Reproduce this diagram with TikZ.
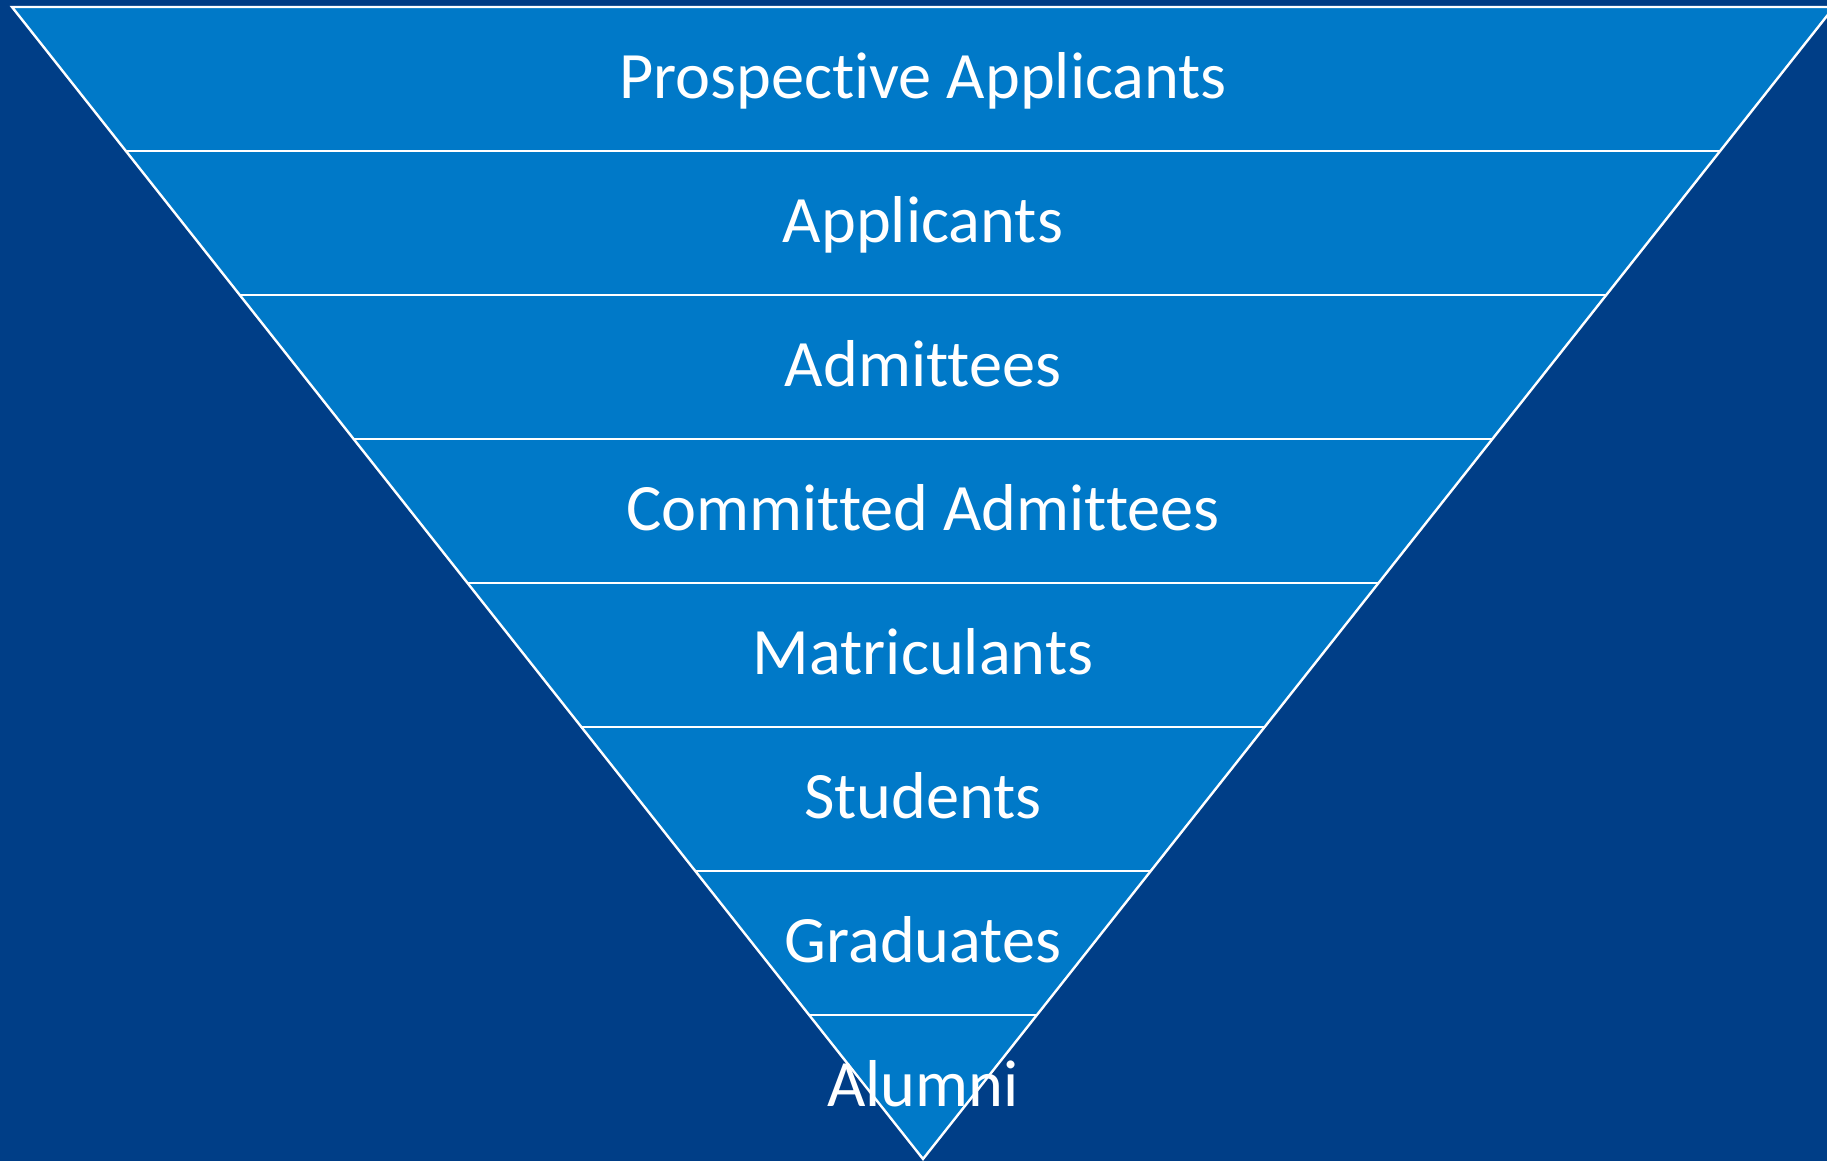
\documentclass[tikz,border=0pt]{standalone}
\usepackage{fontspec}
\setmainfont[Ligatures={NoCommon}]{Carlito}
\definecolor{bg}{RGB}{0,62,135}
\definecolor{band}{RGB}{0,121,200}
\begin{document}
\begin{tikzpicture}[x=1pt,y=-1pt,
  lbl/.style={text=white,font=\fontsize{66.3}{79}\selectfont,anchor=base,inner sep=0pt},
  sep/.style={draw=white,line width=2.4pt}]
\useasboundingbox (0,0) rectangle (1827,1161);
\clip (0,0) rectangle (1827,1161);
\fill[bg] (0,0) rectangle (1827,1161);
\coordinate (tl) at (12,7);
\coordinate (tr) at (1834,7);
\coordinate (apex) at (923,1159);
\fill[band] (tl) -- (tr) -- (apex) -- cycle;
\foreach \i in {1,...,7}{
  \pgfmathsetmacro{\yy}{7+144*\i}
  \pgfmathsetmacro{\dx}{0.79080*144*\i}
  \coordinate (L\i) at (12+\dx,\yy);
  \coordinate (R\i) at (1834-\dx,\yy);
  \draw[sep] (L\i) -- (R\i);
}
\draw[sep,line join=miter] (tl) -- (tr) -- (apex) -- cycle;
\node[lbl] (t1) at (923,98.5) {Prospective Applicants};
\node[lbl] (t2) at (923,242.5) {Applicants};
\node[lbl] (t3) at (923,386.5) {Admittees};
\node[lbl] (t4) at (923,530.5) {Committed Admittees};
\node[lbl] (t5) at (923,674.5) {Matriculants};
\node[lbl] (t6) at (923,818.5) {Students};
\node[lbl] (t7) at (923,962.5) {Graduates};
\node[lbl] (t8) at (923,1106.5) {Alumni};
\end{tikzpicture}
\end{document}
